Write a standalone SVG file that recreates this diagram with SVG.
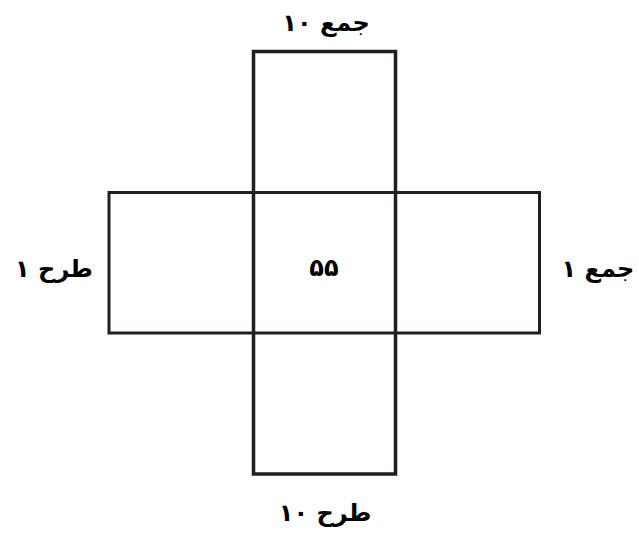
<svg xmlns="http://www.w3.org/2000/svg" width="639" height="538" viewBox="0 0 639 538">
<style>
.box{fill:none;stroke:#231f20;stroke-width:3}
.lbl{font-family:"DejaVu Sans","Noto Sans",sans-serif;font-weight:bold;font-size:24px;fill:#000;text-anchor:middle}
</style>
<rect width="639" height="538" fill="#fff"/>
<g id="horizontal">
<rect class="box" x="109" y="192.5" width="430.5" height="140.5"/>
</g>
<g id="vertical">
<rect class="box" x="253.5" y="51.5" width="142" height="422.5" style="stroke-width:3.5"/>
</g>
<g id="center"><text class="lbl" x="324" y="276">۵۵</text></g>
<g id="top"><text class="lbl" x="326" y="31">جمع ۱۰</text></g>
<g id="left"><text class="lbl" x="54" y="277">طرح ۱</text></g>
<g id="right"><text class="lbl" x="598" y="277">جمع ۱</text></g>
<g id="bottom"><text class="lbl" x="325" y="521">طرح ۱۰</text></g>
<g id="connectors"></g>
</svg>
